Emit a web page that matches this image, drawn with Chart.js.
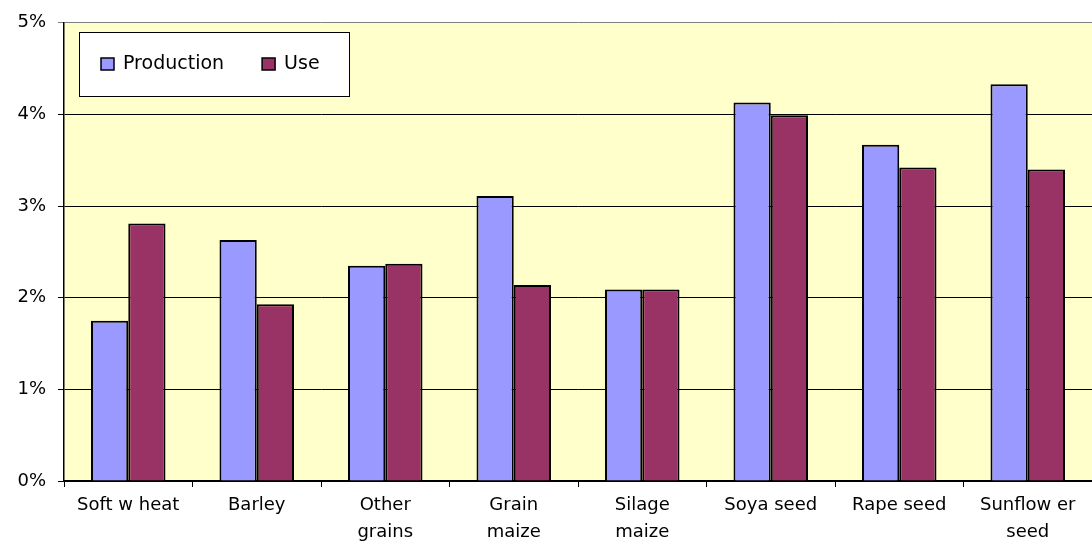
<!DOCTYPE html>
<html>
<head>
<meta charset="utf-8">
<script src="https://cdn.jsdelivr.net/npm/chart.js@4/dist/chart.umd.min.js"></script>
<style>
    html, body { margin: 0; padding: 0; background: #fff; }
    #wrap { width: 1092px; height: 544px; position: relative; }
</style>
</head>
<body>
<div id="wrap"><canvas id="chart"></canvas></div>
<script>
// Data (percent)
const categories = [
    'Soft w heat', ['Barley'], ['Other', 'grains'], ['Grain', 'maize'],
    ['Silage', 'maize'], 'Soya seed', 'Rape seed', ['Sunflow er', 'seed']
];
const production = [1.75, 2.63, 2.35, 3.11, 2.09, 4.13, 3.67, 4.33];
const use = [2.81, 1.93, 2.37, 2.14, 2.09, 3.99, 3.42, 3.40];
const yTicks = [0, 1, 2, 3, 4, 5];

const FONT = 'DejaVu Sans';

// Pale yellow plot background
const plotBg = {
    id: 'plotBg',
    beforeDraw(chart) {
        const { ctx, chartArea: a } = chart;
        ctx.save();
        ctx.fillStyle = '#FFFFCC';
        ctx.fillRect(a.left, a.top, a.right - a.left, a.bottom - a.top);
        ctx.restore();
    }
};

// Legend box drawn inside the plot, like the original
const boxLegend = {
    id: 'boxLegend',
    afterDraw(chart) {
        const ctx = chart.ctx;
        const x = 79, y = 32, w = 270, h = 64;
        ctx.save();
        ctx.fillStyle = '#fff';
        ctx.fillRect(x, y, w, h);
        ctx.strokeStyle = '#000';
        ctx.lineWidth = 1;
        ctx.strokeRect(x + 0.5, y + 0.5, w, h);
        ctx.font = '19px "' + FONT + '"';
        ctx.textBaseline = 'middle';
        let cx = x + 22;
        const cy = y + h / 2;
        chart.data.datasets.forEach(ds => {
            ctx.fillStyle = ds.backgroundColor;
            ctx.fillRect(cx, cy - 6, 13, 12);
            ctx.strokeStyle = '#000';
            ctx.lineWidth = 1.5;
            ctx.strokeRect(cx, cy - 6, 13, 12);
            ctx.fillStyle = '#000';
            ctx.fillText(ds.label, cx + 22, cy);
            cx += 22 + ctx.measureText(ds.label).width + 38;
        });
        ctx.restore();
    }
};

new Chart(document.getElementById('chart'), {
    type: 'bar',
    data: {
        labels: categories,
        datasets: [
            {
                label: 'Production',
                data: production,
                backgroundColor: '#9999FF',
                borderColor: '#000',
                borderWidth: 2,
                borderSkipped: 'bottom'
            },
            {
                label: 'Use',
                data: use,
                backgroundColor: '#993366',
                borderColor: '#000',
                borderWidth: 2,
                borderSkipped: 'bottom'
            }
        ]
    },
    options: {
        responsive: true,
        maintainAspectRatio: false,
        animation: false,
        devicePixelRatio: 1,
        layout: { padding: { top: 21, right: 0, bottom: 0, left: 0 } },
        datasets: {
            bar: { categoryPercentage: 0.58, barPercentage: 1 }
        },
        scales: {
            x: {
                grid: {
                    offset: true,
                    drawOnChartArea: false,
                    drawTicks: true,
                    tickLength: 6,
                    color: '#000'
                },
                border: { color: '#000', width: 1.5 },
                ticks: {
                    color: '#000',
                    font: { family: FONT, size: 18, lineHeight: 1.5 },
                    padding: 5,
                    maxRotation: 0,
                    autoSkip: false
                },
                afterFit(scale) { scale.height = 63; }
            },
            y: {
                min: 0,
                max: 5,
                afterBuildTicks(scale) {
                    scale.ticks = yTicks.map(v => ({ value: v }));
                },
                grid: {
                    color: ctx => ctx.tick && ctx.tick.value === 5 ? '#808080' : '#000',
                    lineWidth: 1,
                    tickLength: 6
                },
                border: { color: '#000', width: 1.5 },
                ticks: {
                    color: '#000',
                    font: { family: FONT, size: 18 },
                    padding: 12,
                    callback: v => v + '%'
                },
                afterFit(scale) { scale.width = 64; }
            }
        },
        plugins: {
            legend: { display: false },
            tooltip: { enabled: false }
        }
    },
    plugins: [plotBg, boxLegend]
});
</script>
</body>
</html>
